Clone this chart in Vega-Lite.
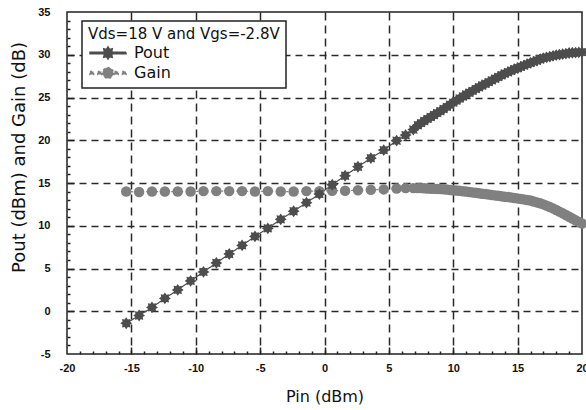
{
  "$schema": "https://vega.github.io/schema/vega-lite/v6.json",
  "width": 515,
  "height": 342,
  "autosize": "none",
  "padding": {"left": 67, "top": 12, "right": 4, "bottom": 56},
  "background": "white",
  "data": {
    "values": [
      {"Pin": -15.4, "value": -1.4, "series": "Pout"},
      {"Pin": -14.4, "value": -0.5, "series": "Pout"},
      {"Pin": -13.4, "value": 0.45, "series": "Pout"},
      {"Pin": -12.4, "value": 1.5, "series": "Pout"},
      {"Pin": -11.4, "value": 2.5, "series": "Pout"},
      {"Pin": -10.4, "value": 3.55, "series": "Pout"},
      {"Pin": -9.4, "value": 4.6, "series": "Pout"},
      {"Pin": -8.4, "value": 5.65, "series": "Pout"},
      {"Pin": -7.4, "value": 6.7, "series": "Pout"},
      {"Pin": -6.4, "value": 7.7, "series": "Pout"},
      {"Pin": -5.4, "value": 8.75, "series": "Pout"},
      {"Pin": -4.4, "value": 9.7, "series": "Pout"},
      {"Pin": -3.4, "value": 10.75, "series": "Pout"},
      {"Pin": -2.4, "value": 11.7, "series": "Pout"},
      {"Pin": -1.4, "value": 12.7, "series": "Pout"},
      {"Pin": -0.4, "value": 13.7, "series": "Pout"},
      {"Pin": 0.6, "value": 14.8, "series": "Pout"},
      {"Pin": 1.6, "value": 15.85, "series": "Pout"},
      {"Pin": 2.6, "value": 16.9, "series": "Pout"},
      {"Pin": 3.6, "value": 17.9, "series": "Pout"},
      {"Pin": 4.6, "value": 18.85, "series": "Pout"},
      {"Pin": 5.6, "value": 19.95, "series": "Pout"},
      {"Pin": 6.3, "value": 20.6, "series": "Pout"},
      {"Pin": 6.9, "value": 21.25, "series": "Pout"},
      {"Pin": 7.25, "value": 21.75, "series": "Pout"},
      {"Pin": 7.5, "value": 22.0, "series": "Pout"},
      {"Pin": 7.75, "value": 22.25, "series": "Pout"},
      {"Pin": 8.0, "value": 22.5, "series": "Pout"},
      {"Pin": 8.25, "value": 22.72, "series": "Pout"},
      {"Pin": 8.5, "value": 22.95, "series": "Pout"},
      {"Pin": 8.75, "value": 23.18, "series": "Pout"},
      {"Pin": 9.0, "value": 23.4, "series": "Pout"},
      {"Pin": 9.25, "value": 23.65, "series": "Pout"},
      {"Pin": 9.5, "value": 23.9, "series": "Pout"},
      {"Pin": 9.75, "value": 24.15, "series": "Pout"},
      {"Pin": 10.0, "value": 24.4, "series": "Pout"},
      {"Pin": 10.25, "value": 24.64, "series": "Pout"},
      {"Pin": 10.5, "value": 24.88, "series": "Pout"},
      {"Pin": 10.75, "value": 25.12, "series": "Pout"},
      {"Pin": 11.0, "value": 25.35, "series": "Pout"},
      {"Pin": 11.25, "value": 25.56, "series": "Pout"},
      {"Pin": 11.5, "value": 25.78, "series": "Pout"},
      {"Pin": 11.75, "value": 26.0, "series": "Pout"},
      {"Pin": 12.0, "value": 26.2, "series": "Pout"},
      {"Pin": 12.25, "value": 26.4, "series": "Pout"},
      {"Pin": 12.5, "value": 26.6, "series": "Pout"},
      {"Pin": 12.75, "value": 26.8, "series": "Pout"},
      {"Pin": 13.0, "value": 27.0, "series": "Pout"},
      {"Pin": 13.25, "value": 27.2, "series": "Pout"},
      {"Pin": 13.5, "value": 27.4, "series": "Pout"},
      {"Pin": 13.75, "value": 27.6, "series": "Pout"},
      {"Pin": 14.0, "value": 27.8, "series": "Pout"},
      {"Pin": 14.25, "value": 27.96, "series": "Pout"},
      {"Pin": 14.5, "value": 28.13, "series": "Pout"},
      {"Pin": 14.75, "value": 28.3, "series": "Pout"},
      {"Pin": 15.0, "value": 28.45, "series": "Pout"},
      {"Pin": 15.25, "value": 28.6, "series": "Pout"},
      {"Pin": 15.5, "value": 28.75, "series": "Pout"},
      {"Pin": 15.75, "value": 28.9, "series": "Pout"},
      {"Pin": 16.0, "value": 29.05, "series": "Pout"},
      {"Pin": 16.25, "value": 29.19, "series": "Pout"},
      {"Pin": 16.5, "value": 29.33, "series": "Pout"},
      {"Pin": 16.75, "value": 29.47, "series": "Pout"},
      {"Pin": 17.0, "value": 29.6, "series": "Pout"},
      {"Pin": 17.25, "value": 29.69, "series": "Pout"},
      {"Pin": 17.5, "value": 29.78, "series": "Pout"},
      {"Pin": 17.75, "value": 29.87, "series": "Pout"},
      {"Pin": 18.0, "value": 29.95, "series": "Pout"},
      {"Pin": 18.25, "value": 30.01, "series": "Pout"},
      {"Pin": 18.5, "value": 30.08, "series": "Pout"},
      {"Pin": 18.75, "value": 30.14, "series": "Pout"},
      {"Pin": 19.0, "value": 30.2, "series": "Pout"},
      {"Pin": 19.25, "value": 30.23, "series": "Pout"},
      {"Pin": 19.5, "value": 30.25, "series": "Pout"},
      {"Pin": 19.75, "value": 30.28, "series": "Pout"},
      {"Pin": 20.0, "value": 30.3, "series": "Pout"},
      {"Pin": -15.4, "value": 14.0, "series": "Gain"},
      {"Pin": -14.4, "value": 13.95, "series": "Gain"},
      {"Pin": -13.4, "value": 14.0, "series": "Gain"},
      {"Pin": -12.4, "value": 14.0, "series": "Gain"},
      {"Pin": -11.4, "value": 14.0, "series": "Gain"},
      {"Pin": -10.4, "value": 14.0, "series": "Gain"},
      {"Pin": -9.4, "value": 14.05, "series": "Gain"},
      {"Pin": -8.4, "value": 14.05, "series": "Gain"},
      {"Pin": -7.4, "value": 14.05, "series": "Gain"},
      {"Pin": -6.4, "value": 14.05, "series": "Gain"},
      {"Pin": -5.4, "value": 14.0, "series": "Gain"},
      {"Pin": -4.4, "value": 14.05, "series": "Gain"},
      {"Pin": -3.4, "value": 14.0, "series": "Gain"},
      {"Pin": -2.4, "value": 14.0, "series": "Gain"},
      {"Pin": -1.4, "value": 14.05, "series": "Gain"},
      {"Pin": -0.4, "value": 14.05, "series": "Gain"},
      {"Pin": 0.6, "value": 14.1, "series": "Gain"},
      {"Pin": 1.6, "value": 14.1, "series": "Gain"},
      {"Pin": 2.6, "value": 14.15, "series": "Gain"},
      {"Pin": 3.6, "value": 14.2, "series": "Gain"},
      {"Pin": 4.6, "value": 14.25, "series": "Gain"},
      {"Pin": 5.6, "value": 14.35, "series": "Gain"},
      {"Pin": 6.3, "value": 14.4, "series": "Gain"},
      {"Pin": 6.9, "value": 14.4, "series": "Gain"},
      {"Pin": 7.25, "value": 14.4, "series": "Gain"},
      {"Pin": 7.5, "value": 14.4, "series": "Gain"},
      {"Pin": 7.75, "value": 14.38, "series": "Gain"},
      {"Pin": 8.0, "value": 14.35, "series": "Gain"},
      {"Pin": 8.25, "value": 14.34, "series": "Gain"},
      {"Pin": 8.5, "value": 14.33, "series": "Gain"},
      {"Pin": 8.75, "value": 14.31, "series": "Gain"},
      {"Pin": 9.0, "value": 14.3, "series": "Gain"},
      {"Pin": 9.25, "value": 14.27, "series": "Gain"},
      {"Pin": 9.5, "value": 14.23, "series": "Gain"},
      {"Pin": 9.75, "value": 14.19, "series": "Gain"},
      {"Pin": 10.0, "value": 14.15, "series": "Gain"},
      {"Pin": 10.25, "value": 14.11, "series": "Gain"},
      {"Pin": 10.5, "value": 14.08, "series": "Gain"},
      {"Pin": 10.75, "value": 14.04, "series": "Gain"},
      {"Pin": 11.0, "value": 14.0, "series": "Gain"},
      {"Pin": 11.25, "value": 13.95, "series": "Gain"},
      {"Pin": 11.5, "value": 13.9, "series": "Gain"},
      {"Pin": 11.75, "value": 13.85, "series": "Gain"},
      {"Pin": 12.0, "value": 13.8, "series": "Gain"},
      {"Pin": 12.25, "value": 13.75, "series": "Gain"},
      {"Pin": 12.5, "value": 13.7, "series": "Gain"},
      {"Pin": 12.75, "value": 13.65, "series": "Gain"},
      {"Pin": 13.0, "value": 13.6, "series": "Gain"},
      {"Pin": 13.25, "value": 13.55, "series": "Gain"},
      {"Pin": 13.5, "value": 13.5, "series": "Gain"},
      {"Pin": 13.75, "value": 13.45, "series": "Gain"},
      {"Pin": 14.0, "value": 13.4, "series": "Gain"},
      {"Pin": 14.25, "value": 13.35, "series": "Gain"},
      {"Pin": 14.5, "value": 13.3, "series": "Gain"},
      {"Pin": 14.75, "value": 13.25, "series": "Gain"},
      {"Pin": 15.0, "value": 13.2, "series": "Gain"},
      {"Pin": 15.25, "value": 13.14, "series": "Gain"},
      {"Pin": 15.5, "value": 13.08, "series": "Gain"},
      {"Pin": 15.75, "value": 13.02, "series": "Gain"},
      {"Pin": 16.0, "value": 12.95, "series": "Gain"},
      {"Pin": 16.25, "value": 12.84, "series": "Gain"},
      {"Pin": 16.5, "value": 12.73, "series": "Gain"},
      {"Pin": 16.75, "value": 12.62, "series": "Gain"},
      {"Pin": 17.0, "value": 12.5, "series": "Gain"},
      {"Pin": 17.25, "value": 12.35, "series": "Gain"},
      {"Pin": 17.5, "value": 12.2, "series": "Gain"},
      {"Pin": 17.75, "value": 12.03, "series": "Gain"},
      {"Pin": 18.0, "value": 11.85, "series": "Gain"},
      {"Pin": 18.25, "value": 11.65, "series": "Gain"},
      {"Pin": 18.5, "value": 11.45, "series": "Gain"},
      {"Pin": 18.75, "value": 11.25, "series": "Gain"},
      {"Pin": 19.0, "value": 11.05, "series": "Gain"},
      {"Pin": 19.25, "value": 10.85, "series": "Gain"},
      {"Pin": 19.5, "value": 10.65, "series": "Gain"},
      {"Pin": 19.75, "value": 10.45, "series": "Gain"},
      {"Pin": 20.0, "value": 10.25, "series": "Gain"}
    ]
  },
  "resolve": {"axis": {"x": "independent", "y": "independent"}},
  "layer": [
    {
      "mark": {"type": "rule", "opacity": 0},
      "encoding": {
        "x": {
          "datum": 0, "type": "quantitative", "scale": {"domain": [-20, 20], "nice": false, "zero": false},
          "axis": {"orient": "bottom", "values": [-15, -10, -5, 0, 5, 10, 15], "labels": false, "ticks": false, "domain": false, "title": null,
                   "grid": true, "gridColor": "#2a2a2a", "gridWidth": 1.5, "gridDash": [8, 5]}
        },
        "y": {
          "datum": 0, "type": "quantitative", "scale": {"domain": [-5, 35], "nice": false, "zero": false},
          "axis": {"orient": "left", "values": [0, 5, 10, 15, 20, 25, 30], "labels": false, "ticks": false, "domain": false, "title": null,
                   "grid": true, "gridColor": "#2a2a2a", "gridWidth": 1.5, "gridDash": [7, 5]}
        }
      }
    },
    {
      "mark": {"type": "rule", "opacity": 0},
      "encoding": {
        "x": {
          "datum": 0, "type": "quantitative",
          "axis": {"orient": "bottom", "values": [-19, -18, -17, -16, -14, -13, -12, -11, -9, -8, -7, -6, -4, -3, -2, -1, 1, 2, 3, 4, 6, 7, 8, 9, 11, 12, 13, 14, 16, 17, 18, 19],
                   "labels": false, "ticks": true, "tickSize": -3, "tickColor": "#222", "tickWidth": 1.5, "domain": false, "title": null, "grid": false}
        },
        "y": {
          "datum": 0, "type": "quantitative",
          "axis": {"orient": "left", "values": [-4, -3, -2, -1, 1, 2, 3, 4, 6, 7, 8, 9, 11, 12, 13, 14, 16, 17, 18, 19, 21, 22, 23, 24, 26, 27, 28, 29, 31, 32, 33, 34],
                   "labels": false, "ticks": true, "tickSize": -3, "tickColor": "#222", "tickWidth": 1.5, "domain": false, "title": null, "grid": false}
        }
      }
    },
    {
      "mark": {"type": "rule", "opacity": 0},
      "encoding": {
        "x": {
          "datum": 0, "type": "quantitative",
          "axis": {"orient": "bottom", "values": [-15, -10, -5, 0, 5, 10, 15],
                   "labels": false, "ticks": true, "tickSize": -7, "tickColor": "#222", "tickWidth": 1.5, "domain": false, "title": null, "grid": false}
        },
        "y": {
          "datum": 0, "type": "quantitative",
          "axis": {"orient": "left", "values": [0, 5, 10, 15, 20, 25, 30],
                   "labels": false, "ticks": true, "tickSize": -7, "tickColor": "#222", "tickWidth": 1.5, "domain": false, "title": null, "grid": false}
        }
      }
    },
    {
      "mark": {"type": "line", "strokeWidth": 1.2},
      "encoding": {
        "x": {
          "field": "Pin", "type": "quantitative",
          "axis": {
            "orient": "bottom",
            "values": [-20, -15, -10, -5, 0, 5, 10, 15, 20],
            "labelExpr": "replace(datum.label, '\u2212', '-')",
            "ticks": false, "domain": false, "grid": false,
            "labelPadding": 8, "labelOverlap": false, "labelBound": false, "labelFlush": false,
            "title": "Pin (dBm)", "titleY": 42, "titleBaseline": "middle"
          }
        },
        "y": {
          "field": "value", "type": "quantitative",
          "axis": {
            "orient": "left",
            "values": [-5, 0, 5, 10, 15, 20, 25, 30, 35],
            "labelExpr": "replace(datum.label, '\u2212', '-')",
            "ticks": false, "domain": false, "grid": false,
            "labelPadding": 17, "labelOverlap": false, "labelBound": false, "labelFlush": false,
            "title": "Pout (dBm) and Gain (dB)", "titleX": -48, "titleY": 145,
            "titleAlign": "center", "titleBaseline": "middle", "titleAngle": 270
          }
        },
        "color": {
          "field": "series", "type": "nominal",
          "scale": {"domain": ["Pout", "Gain"], "range": ["#4d4d4d", "#808080"]},
          "legend": {
            "title": "Vds=18 V and Vgs=-2.8V",
            "orient": "none", "legendX": 15, "legendY": 9,
            "direction": "vertical",
            "fillColor": "white", "strokeColor": "#222",
            "padding": 6, "cornerRadius": 0,
            "titleFont": "DejaVu Sans", "titleFontSize": 15, "titleFontWeight": "normal", "titleColor": "#111", "titlePadding": 3, "titleLimit": 400,
            "labelFont": "DejaVu Sans", "labelFontSize": 16, "labelColor": "#111",
            "symbolSize": 144, "symbolOffset": 12, "labelOffset": 18, "rowPadding": 2,
            "encode": {
              "legend": {"update": {"strokeWidth": {"value": 1.5}}},
              "symbols": {
                "update": {
                  "shape": {"signal": "datum.value == 'Pout' ? 'M-3,-0.12H3V0.12H-3Z M1,0L0.6,0.25L0.71,0.71L0.25,0.6L0,1L-0.25,0.6L-0.71,0.71L-0.6,0.25L-1,0L-0.6,-0.25L-0.71,-0.71L-0.25,-0.6L0,-1L0.25,-0.6L0.71,-0.71L0.6,-0.25Z' : 'M-3,-0.25H-2.4V0.25H-3Z M-1.7,-0.25H-1.1V0.25H-1.7Z M0.9,0A0.9,0.9 0 1 1 -0.9,0A0.9,0.9 0 1 1 0.9,0Z M1.1,-0.25H1.7V0.25H1.1Z M2.4,-0.25H3V0.25H2.4Z'"},
                  "fill": {"signal": "datum.value == 'Pout' ? '#4d4d4d' : '#808080'"},
                  "fillOpacity": {"value": 1},
                  "stroke": {"value": "transparent"},
                  "size": {"value": 144}
                }
              }
            }
          }
        },
        "strokeDash": {
          "field": "series", "type": "nominal",
          "scale": {"domain": ["Pout", "Gain"], "range": [[1, 0], [2, 3]]},
          "legend": null
        }
      }
    },
    {
      "transform": [{"filter": "datum.series == 'Gain'"}],
      "mark": {"type": "point", "shape": "circle", "filled": true, "color": "#808080", "opacity": 1, "size": 110},
      "encoding": {
        "x": {"field": "Pin", "type": "quantitative", "axis": null},
        "y": {"field": "value", "type": "quantitative", "axis": null}
      }
    },
    {
      "transform": [{"filter": "datum.series == 'Pout'"}],
      "mark": {"type": "point", "shape": "M1,0L0.62,0.27L0.71,0.71L0.27,0.62L0,1L-0.27,0.62L-0.71,0.71L-0.62,0.27L-1,0L-0.62,-0.27L-0.71,-0.71L-0.27,-0.62L0,-1L0.27,-0.62L0.71,-0.71L0.62,-0.27Z", "filled": true, "color": "#4d4d4d", "opacity": 1, "size": 140},
      "encoding": {
        "x": {"field": "Pin", "type": "quantitative", "axis": null},
        "y": {"field": "value", "type": "quantitative", "axis": null}
      }
    }
  ],
  "config": {
    "view": {"stroke": "#222", "strokeWidth": 1.5},
    "axis": {
      "labelFont": "Liberation Sans", "labelFontSize": 11, "labelFontWeight": "bold", "labelColor": "#111",
      "titleFont": "DejaVu Sans", "titleFontSize": 16, "titleFontWeight": "normal", "titleColor": "#111"
    },
    "axisY": {"titleFontSize": 18}
  }
}
